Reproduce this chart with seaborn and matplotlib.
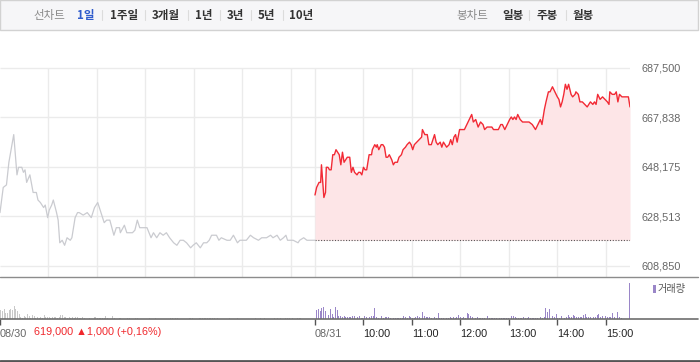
import numpy as np
import pandas as pd
import seaborn as sns
import matplotlib.pyplot as plt
from matplotlib.lines import Line2D
from matplotlib.patches import Rectangle

# 08/30 (previous day) intraday price, minutes after 09:00
prev_min = [0, 4, 8, 11, 17, 21, 23, 27, 29, 31, 33, 37, 41, 45, 47, 50, 54, 56, 59, 61,
            64, 66, 70, 72, 74, 77, 80, 83, 87, 89, 93, 96, 98, 103, 108, 113, 117, 121, 124, 129,
            132, 136, 141, 144, 148, 149, 154, 157, 161, 164, 167, 170, 173, 177, 182, 187, 190, 194, 198, 202,
            206, 210, 215, 219, 223, 227, 231, 236, 239, 243, 248, 252, 256, 259, 262, 264, 268, 271, 274, 281,
            285, 289, 294, 297, 301, 305, 310, 314, 320, 324, 330, 335, 338, 343, 347, 351, 354, 356, 359, 363,
            369, 371, 376, 380, 390]
prev_price = [630000, 640000, 641000, 650000, 661000, 645000, 648000, 648000, 646000, 647000,
              642000, 645000, 638000, 638000, 635000, 634000, 632000, 633000, 628000, 631000,
              633000, 635000, 630000, 627000, 618000, 619000, 617000, 620000, 619000, 620000,
              628000, 630000, 630000, 629000, 630000, 628000, 632000, 634000, 631000, 626000,
              627000, 627000, 621000, 624000, 624000, 622000, 625000, 622000, 622000, 622000,
              623000, 627000, 624000, 624000, 624000, 620000, 622000, 620000, 622000, 621000,
              622000, 620000, 618000, 617000, 619000, 619000, 618000, 616000, 617000, 618000,
              616000, 618000, 618000, 619000, 621000, 621000, 621000, 619000, 620000, 619000,
              619000, 621000, 618000, 619000, 619000, 619000, 621000, 620000, 619000, 620000,
              620000, 621000, 620000, 621000, 619000, 620000, 621000, 619000, 619000, 619000,
              618000, 619000, 620000, 619000, 619000]

# 08/31 (today) intraday price, minutes after 09:00
today_min = [0, 2, 5, 7, 8, 10, 11, 13, 14, 16, 18, 20, 22, 24, 26, 28, 30, 32, 34, 36,
             38, 40, 43, 45, 47, 49, 52, 54, 56, 58, 60, 62, 64, 67, 70, 71, 74, 76, 77, 79,
             82, 84, 86, 88, 90, 92, 95, 97, 99, 102, 104, 107, 109, 112, 114, 117, 119, 121, 123, 126,
             129, 132, 133, 136, 139, 141, 144, 148, 150, 152, 155, 157, 159, 163, 166, 168, 170, 172, 174, 176,
             179, 182, 185, 188, 191, 194, 196, 199, 202, 205, 208, 210, 213, 216, 219, 221, 224, 227, 230, 232,
             235, 238, 241, 243, 245, 247, 249, 251, 254, 257, 260, 265, 269, 273, 276, 279, 281, 284, 286, 289,
             291, 294, 297, 300, 302, 304, 306, 308, 310, 312, 314, 317, 319, 322, 323, 326, 328, 331, 334, 337,
             339, 341, 344, 346, 348, 350, 353, 356, 359, 362, 364, 365, 368, 371, 373, 375, 377, 380, 384, 388,
             390]
today_price = [637000, 640000, 642000, 642000, 649000, 640000, 636000, 638000, 648000, 648000,
               647000, 647000, 653000, 653000, 655000, 654000, 653000, 649000, 654000, 650000,
               651000, 652000, 652000, 646000, 648000, 646000, 645000, 646000, 646000, 645000,
               648000, 647000, 647000, 653000, 653000, 655000, 657000, 656000, 657000, 655000,
               657000, 657000, 656000, 652000, 652000, 653000, 651000, 649000, 650000, 650000,
               652000, 653000, 655000, 656000, 657000, 658000, 657000, 655000, 657000, 658000,
               659000, 660000, 663000, 661000, 661000, 657000, 657000, 661000, 658000, 657000,
               658000, 656000, 658000, 656000, 657000, 659000, 657000, 660000, 661000, 658000,
               663000, 663000, 663000, 665000, 667000, 669000, 666000, 667000, 664000, 666000,
               665000, 663000, 664000, 664000, 664000, 663000, 663000, 663000, 665000, 665000,
               663000, 665000, 667000, 668000, 667000, 668000, 667000, 669000, 667000, 666000,
               666000, 666000, 665000, 663000, 665000, 667000, 665000, 671000, 674000, 678000,
               678000, 680000, 678000, 676000, 675000, 672000, 674000, 677000, 681000, 679000,
               681000, 677000, 676000, 677000, 678000, 677000, 674000, 674000, 673000, 672000,
               673000, 674000, 673000, 674000, 673000, 677000, 675000, 676000, 675000, 674000,
               673000, 678000, 677000, 677000, 678000, 674000, 677000, 676000, 676000, 676000,
               672000]

prev_close = 619000

# volume bars (about every 2 minutes)
prev_vol = [3600, 3200, 4100, 2500, 2500, 3900, 4100, 3900, 5300, 4100,
            3200, 2100, 800, 400, 1200, 800, 2100, 1500, 400, 1700,
            1200, 400, 900, 500, 1100, 400, 1700, 800, 800, 900,
            400, 800, 1100, 900, 500, 900, 1700, 1700, 800, 900,
            500, 900, 400, 800, 400, 800, 900, 400, 400, 900,
            500, 0, 0, 500, 0, 0, 900, 900, 500, 400,
            500, 500, 400, 1300, 400, 0, 0, 1300, 400, 0,
            0, 500, 400, 0, 0, 0, 500, 500, 0, 0,
            0, 500, 500, 0, 0, 0, 0, 0, 0, 400,
            0, 0, 0, 400, 0, 0, 0, 0, 0, 0,
            0, 0, 400, 400, 0, 400, 400, 0, 0, 0,
            0, 0, 0, 400, 400, 400, 0, 0, 0, 400,
            400, 400, 400, 400, 500, 400, 500, 400, 500, 0,
            400, 0, 0, 0, 0, 0, 0, 400, 0, 0,
            0, 0, 400, 0, 0, 0, 0, 0, 0, 0,
            0, 0, 0, 500, 0, 0, 400, 0, 400, 0,
            0, 0, 0, 0, 400, 0, 700, 0, 400, 0,
            0, 400, 400, 400, 0, 400, 0, 0, 400, 400,
            400, 0, 0, 0, 0, 0, 0, 0, 0]
today_vol = [2500, 3600, 4100, 3200, 4500, 4900, 3200, 1900, 1900, 4100,
             2100, 800, 4900, 3600, 1500, 1500, 800, 1200, 800, 900,
             800, 1100, 1200, 1500, 1700, 900, 1200, 500, 400, 1200,
             1100, 900, 800, 1500, 1200, 4500, 900, 500, 1100, 1200,
             500, 1100, 900, 800, 500, 800, 400, 500, 400, 400,
             400, 400, 1300, 800, 500, 1200, 800, 500, 400, 900,
             1300, 900, 800, 2900, 1200, 800, 900, 900, 500, 700,
             900, 400, 2500, 400, 500, 500, 800, 400, 500, 800,
             500, 1100, 500, 900, 1700, 800, 500, 800, 500, 2500,
             2300, 1500, 1100, 500, 400, 800, 400, 500, 400, 400,
             800, 1200, 500, 400, 400, 500, 400, 400, 400, 500,
             400, 500, 400, 700, 900, 1200, 1200, 800, 500, 400,
             400, 500, 900, 400, 400, 800, 500, 400, 500, 400,
             700, 800, 1100, 400, 900, 4400, 2800, 4100, 2800, 1500,
             1100, 2100, 400, 500, 1200, 800, 700, 900, 1700, 900,
             800, 1700, 1200, 900, 800, 900, 1100, 1700, 2100, 800,
             800, 900, 800, 900, 900, 1700, 2000, 900, 1200, 1300,
             1200, 900, 1100, 800, 2500, 800, 800, 2900, 1100, 400]
close_vol = 14500

y_ticks = [608850, 628513, 648175, 667838, 687500]
y_labels = ["608,850", "628,513", "648,175", "667,838", "687,500"]
x_ticks = [0, 390, 450, 510, 570, 630, 690, 750]
x_labels = ["08/30", "08/31", "10:00", "11:00", "12:00", "13:00", "14:00", "15:00"]
grid_x = [60, 120, 180, 240, 300, 360, 390, 450, 510, 570, 630, 690, 750]

left_menu = ["1일", "1주일", "3개월", "1년", "3년", "5년", "10년"]
right_menu = ["일봉", "주봉", "월봉"]
change_text = "619,000 ▲1,000 (+0,16%)"

sns.set_theme(style="white")
plt.rcParams['font.family'] = ['Liberation Sans', 'Noto Sans CJK KR', 'DejaVu Sans']
KR = ['Noto Sans CJK KR', 'DejaVu Sans']

W, H = 700, 362
fig = plt.figure(figsize=(7, 3.62), dpi=100)
fig.patch.set_facecolor('white')

def fx(px):
    return px / W

def fy(py):
    return 1 - py / H

# price panel
ax = fig.add_axes([0, fy(276.5), fx(630), fy(40) - fy(276.5)])
ax.set_xlim(0, 780)
ax.set_ylim(604600, 698600)
ax.hlines(y_ticks, 0, 780, color='#ebebeb', lw=1, zorder=0)
ax.vlines(grid_x, 604600, 687500, color='#ebebeb', lw=1, zorder=0)

prev_df = pd.DataFrame({'t': prev_min, 'price': prev_price})
today_df = pd.DataFrame({'t': np.array(today_min) + 390, 'price': today_price})

ax.fill_between(today_df['t'], today_df['price'], prev_close, color='#fde5e7', lw=0, zorder=1)
ax.hlines(prev_close, 390, 780, color='#555555', lw=0.8, linestyles=(0, (1, 1.5)), zorder=2)
sns.lineplot(data=prev_df, x='t', y='price', color='#cacbd0', lw=0.9, ax=ax, sort=False, zorder=3)
sns.lineplot(data=today_df, x='t', y='price', color='#f22a35', lw=1.0, ax=ax, sort=False, zorder=3)

for s in ax.spines.values():
    s.set_visible(False)
ax.set_xlabel('')
ax.set_ylabel('')
ax.set_xticks([])
ax.yaxis.tick_right()
ax.set_yticks(y_ticks)
ax.set_yticklabels(y_labels)
ax.tick_params(axis='y', length=0, pad=8, labelsize=7.8, labelcolor='#666666')
for lab in ax.get_yticklabels():
    lab.set_horizontalalignment('left')

# volume panel
axv = fig.add_axes([0, fy(319.3), fx(630), fy(277.5) - fy(319.3)])
axv.set_xlim(0, 780)
axv.set_ylim(0, 16900)
prev_vx = np.linspace(1, 389, len(prev_vol))
today_vx = 390 + np.linspace(0, 379, len(today_vol))
axv.bar(prev_vx, prev_vol, width=1.1, color='#c9c9c9', lw=0)
axv.bar(today_vx, today_vol, width=1.1, color='#9a86c8', lw=0)
axv.bar([779.4], [close_vol], width=1.2, color='#9a86c8', lw=0, clip_on=False)
for s in axv.spines.values():
    s.set_visible(False)
axv.set_yticks([])
axv.set_xticks(x_ticks)
axv.set_xticklabels(x_labels, ha='left')
axv.tick_params(axis='x', length=4, width=1, color='#555555', pad=3, labelsize=7.8, bottom=True)
for i, lab in enumerate(axv.get_xticklabels()):
    lab.set_color('#666666' if i < 2 else '#222222')

# panel separators and frame
fig.add_artist(Line2D([0, fx(698)], [fy(276.5)] * 2, color='#8c8c8c', lw=1))
fig.add_artist(Line2D([0, fx(698)], [fy(319.3)] * 2, color='#6e6e6e', lw=1.2))
fig.add_artist(Line2D([0, 1], [fy(360.5)] * 2, color='#555555', lw=2))

# header bar
fig.add_artist(Rectangle((0, fy(30)), fx(698), 30 / H, transform=fig.transFigure,
                         facecolor='#f6f6f8', edgecolor='#d2d2d2', lw=1))
ty = fy(15)
fig.text(fx(33), ty, "선차트", color='#8a8a8a', fontsize=8.3, va='center', family=KR)
menu_x = [77, 110, 152, 195, 227, 258, 289]
for i, (name, px) in enumerate(zip(left_menu, menu_x)):
    fig.text(fx(px), ty, name, color='#2f5bcc' if i == 0 else '#333333',
             fontsize=8.3, fontweight='bold', va='center', family=KR)
for px in [102, 145, 188, 220, 251, 283, 529, 566]:
    fig.add_artist(Line2D([fx(px)] * 2, [fy(10), fy(20)], color='#dcdcdc', lw=0.8))
fig.text(fx(456), ty, "봉차트", color='#8a8a8a', fontsize=8.3, va='center', family=KR)
for name, px in zip(right_menu, [502, 537, 573]):
    fig.text(fx(px), ty, name, color='#333333', fontsize=8.3, fontweight='bold',
             va='center', family=KR)

# volume legend and change text
fig.add_artist(Rectangle((fx(653), fy(293)), fx(3), 8 / H, transform=fig.transFigure,
                         facecolor='#9a86c8', lw=0))
fig.text(fx(658), fy(289), "거래량", color='#555555', fontsize=7.3, va='center', family=KR)
fig.text(fx(34), fy(332), change_text, color='#f0282d', fontsize=7.8, va='center',
         family=['Liberation Sans', 'DejaVu Sans'])

fig.savefig('out.png', dpi=100)
